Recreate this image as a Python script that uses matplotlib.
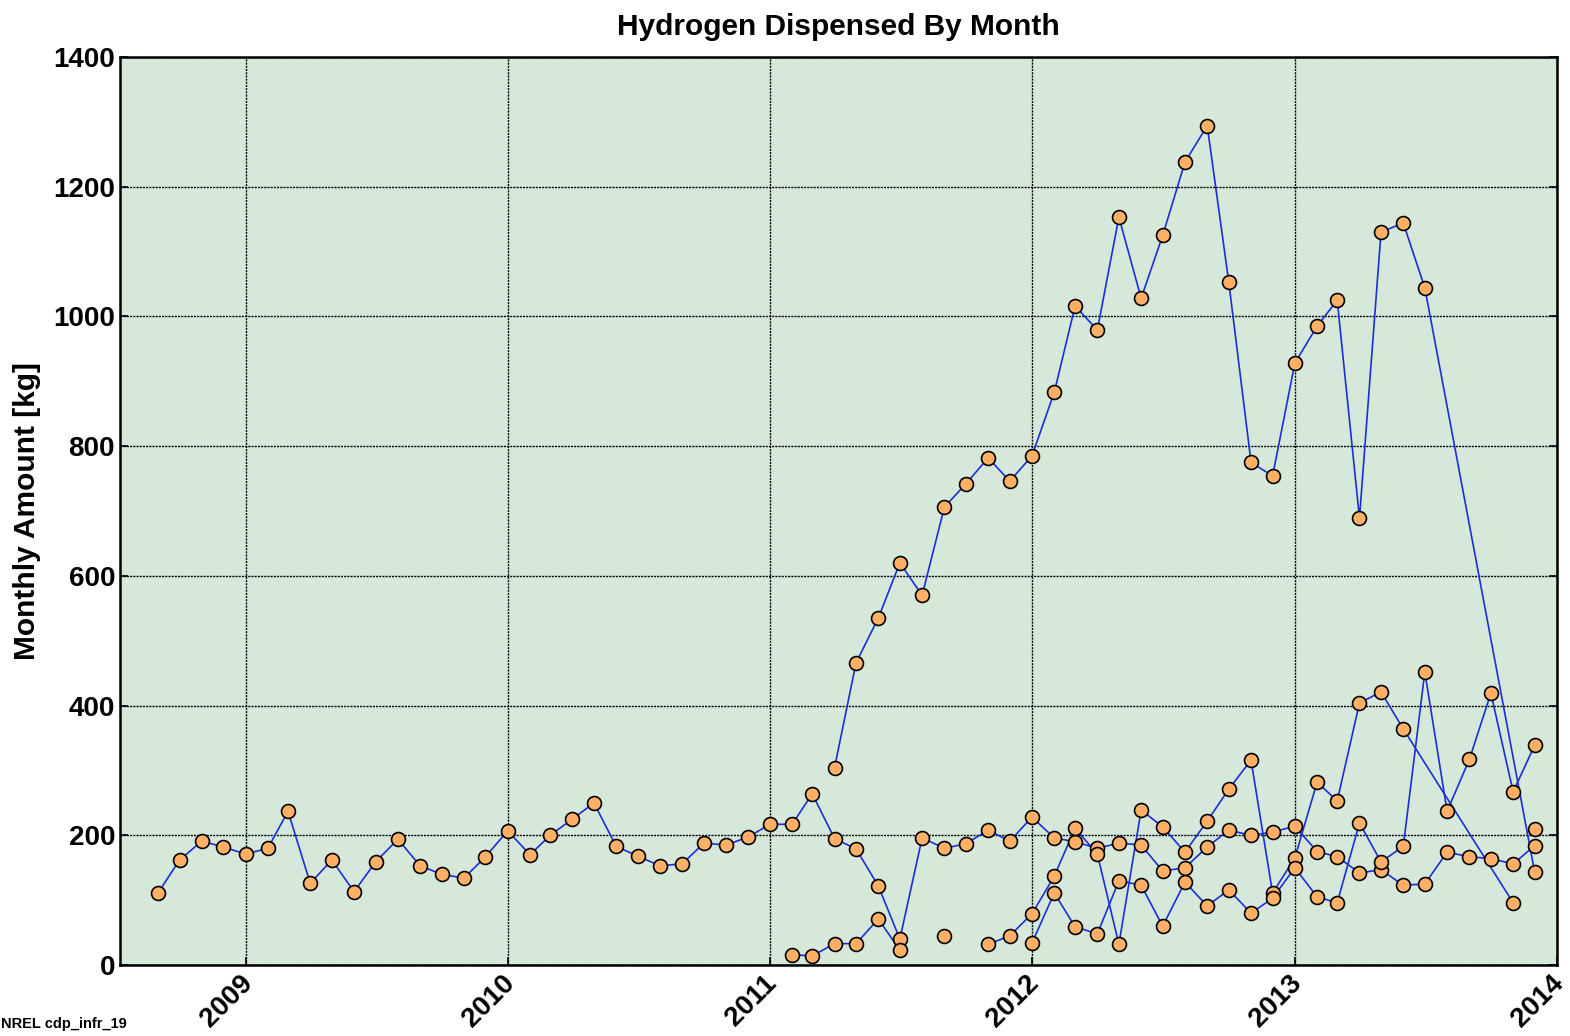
import numpy as np
import pandas as pd
import matplotlib
matplotlib.use("Agg")
import matplotlib.pyplot as plt
import matplotlib.dates as mdates
import matplotlib.transforms as mtransforms
from datetime import datetime

plt.rcParams['font.family'] = ['Liberation Sans', 'DejaVu Sans']

# station with the longest record, Sep 2008 .. Dec 2013
s1_months = pd.date_range("2008-09-01", "2013-12-01", freq="MS")
s1_vals = [111, 162, 191, 182,
           171, 180, 237, 126, 162, 113, 159, 194, 153, 140, 134, 167,
           207, 170, 200, 225, 250, 183, 168, 153, 156, 188, 185, 197,
           217, 217, 264, 195, 179, 122, 40, 196, 180, 187, 208, 191,
           228, 196, 190, 180, 188, 185, 145, 150, 182, 208, 200, 205,
           214, 175, 167, 142, 147, 123, 125, 174, 167, 164, 156, 184]

# the big one
big_months = ["2011-04", "2011-05", "2011-06", "2011-07", "2011-08", "2011-09",
              "2011-10", "2011-11", "2011-12", "2012-01", "2012-02", "2012-03",
              "2012-04", "2012-05", "2012-06", "2012-07", "2012-08", "2012-09",
              "2012-10", "2012-11", "2012-12", "2013-01", "2013-02", "2013-03",
              "2013-04", "2013-05", "2013-06", "2013-07", "2013-12"]
big_vals = [304, 466, 535, 620, 570, 706, 742, 782, 746, 785, 883, 1016,
            979, 1153, 1028, 1125, 1238, 1294, 1053, 775, 754, 928, 985, 1025,
            689, 1130, 1144, 1044, 143]

# small station, first run 2011
s2a_months = ["2011-02", "2011-03", "2011-04", "2011-05", "2011-06", "2011-07"]
s2a_vals = [16, 14, 33, 33, 71, 23]

s2b_months = ["2011-09"]
s2b_vals = [45]

s2c_months = ["2011-11", "2011-12", "2012-01", "2012-02", "2012-03", "2012-04",
              "2012-05", "2012-06", "2012-07", "2012-08", "2012-09", "2012-10",
              "2012-11", "2012-12", "2013-01", "2013-02", "2013-03", "2013-04",
              "2013-05", "2013-06", "2013-11"]
s2c_vals = [32, 45, 79, 137, 211, 171, 32, 239, 213, 174, 222, 271,
            316, 111, 165, 282, 253, 404, 421, 364, 96]

s3_months = pd.date_range("2012-01-01", "2013-12-01", freq="MS")
s3_vals = [34, 111, 59, 48, 130, 123, 60, 128, 91, 116, 80, 103,
           150, 105, 96, 219, 159, 183, 452, 237, 317, 419, 267, 339]

s4_months = ["2013-12"]
s4_vals = [210]

series = [
    (s1_months, s1_vals),
    (big_months, big_vals),
    (s2a_months, s2a_vals),
    (s2b_months, s2b_vals),
    (s2c_months, s2c_vals),
    (s3_months, s3_vals),
    (s4_months, s4_vals),
]

fig = plt.figure(figsize=(15.7, 10.36), dpi=100)
ax = fig.add_axes([0.0764, 0.0685, 0.9153, 0.8765])
ax.set_facecolor('#d6e8da')

for months, vals in series:
    x = pd.to_datetime(months)
    ax.plot(x, vals, '-', color='#1a2fd8', lw=1.2, zorder=3)
    ax.plot(x, vals, 'o', ms=10, mfc='#ffb066', mec='black', mew=1.2, zorder=4)

ax.set_xlim(datetime(2008, 7, 10), datetime(2014, 1, 1))
ax.set_ylim(0, 1400)
ax.set_yticks(np.arange(0, 1401, 200))
ax.xaxis.set_major_locator(mdates.YearLocator())
ax.xaxis.set_major_formatter(mdates.DateFormatter('%Y'))

ax.grid(True, color='black', linestyle=(0, (1.5, 0.8)), lw=1.0)
ax.set_axisbelow(True)
for sp in ax.spines.values():
    sp.set_linewidth(1.8)

ax.tick_params(axis='both', direction='in', length=6, width=1.2,
               labelsize=20, right=True, top=False)
for lab in ax.get_yticklabels():
    lab.set_fontweight('bold')
shift = mtransforms.ScaledTranslation(-6 / 100, 0 / 100, fig.dpi_scale_trans)
for lab in ax.get_xticklabels():
    lab.set_fontweight('bold')
    lab.set_rotation(45)
    lab.set_ha('right')
    lab.set_rotation_mode('anchor')
    lab.set_transform(lab.get_transform() + shift)

ax.set_ylabel('Monthly Amount [kg]', fontsize=21.5, fontweight='bold', labelpad=9)
ax.set_title('Hydrogen Dispensed By Month', fontsize=21.5, fontweight='bold', pad=16)
fig.text(0.0005, 0.008, 'NREL cdp_infr_19', fontsize=10.5, fontweight='bold')

fig.savefig('out.png', dpi=100)
